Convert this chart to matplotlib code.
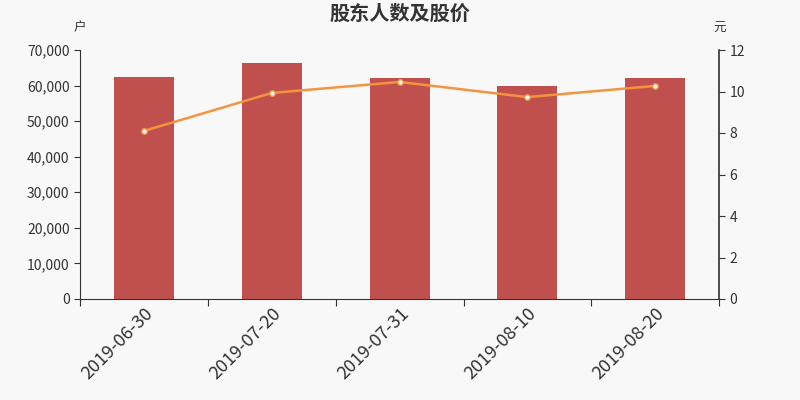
import numpy as np
import matplotlib
matplotlib.use("Agg")
import matplotlib.pyplot as plt

plt.rcParams['font.family'] = ['Noto Sans CJK SC', 'DejaVu Sans']

dates = ['2019-06-30', '2019-07-20', '2019-07-31', '2019-08-10', '2019-08-20']
holders = [62550, 66300, 62100, 59900, 62100]
prices = [8.10, 9.93, 10.46, 9.73, 10.27]

bg = '#f8f8f8'
axis_color = '#333333'

fig = plt.figure(figsize=(8, 4), dpi=100, facecolor=bg)
ax = fig.add_axes([0.1, 0.2525, 0.799, 0.6225], facecolor=bg)
ax2 = ax.twinx()

x = np.arange(len(dates))
ax.bar(x, holders, width=0.47, color='#c0504d', zorder=2)
ax2.plot(x, prices, color='#f5943f', linewidth=1.8, marker='o', markersize=4,
         markerfacecolor='white', markeredgecolor='#f5943f', markeredgewidth=1, zorder=3)

ax.set_xlim(-0.5, len(dates) - 0.5)
ax.set_ylim(0, 70000)
ax2.set_ylim(0, 12)
ax.set_yticks(np.arange(0, 70001, 10000))
ax.set_yticklabels([f'{v:,}' for v in range(0, 70001, 10000)])
ax2.set_yticks(np.arange(0, 13, 2))

# category boundaries as ticks, labels centred on bars
ax.set_xticks(np.arange(-0.5, len(dates), 1.0))
ax.set_xticklabels([])
ax.set_xticks(x, minor=True)
ax.set_xticklabels(dates, minor=True, rotation=45, ha='right', rotation_mode='anchor',
                   fontsize=13, color=axis_color)
ax.tick_params(axis='x', which='minor', length=0, pad=4)
ax.tick_params(axis='x', which='major', length=5, color=axis_color)

for a in (ax, ax2):
    a.spines['top'].set_visible(False)
    for s in ('left', 'right', 'bottom'):
        a.spines[s].set_color(axis_color)
    a.tick_params(axis='y', labelsize=10, colors=axis_color, length=4)
ax.spines['right'].set_visible(False)
ax2.spines['left'].set_visible(False)
ax2.spines['bottom'].set_visible(False)
ax2.spines['right'].set_linewidth(1.2)

fig.text(0.5, 0.967, '股东人数及股价', ha='center', va='center', fontsize=14.5,
         fontweight='bold', color=axis_color)
fig.text(0.1, 0.93, '户', ha='center', va='center', fontsize=9, color=axis_color)
fig.text(0.899, 0.93, '元', ha='center', va='center', fontsize=9, color=axis_color)

fig.savefig('out.png', dpi=100, facecolor=bg)
